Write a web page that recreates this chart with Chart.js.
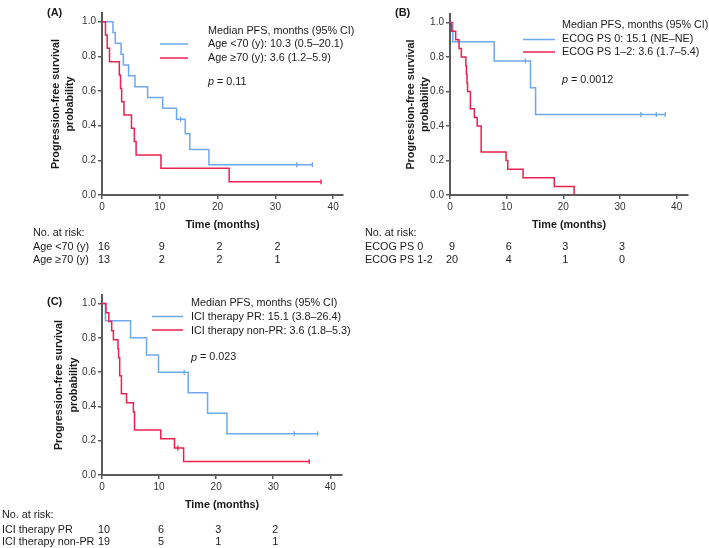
<!DOCTYPE html>
<html>
<head>
<meta charset="utf-8">
<script src="https://cdn.jsdelivr.net/npm/chart.js@4.4.1/dist/chart.umd.min.js"></script>
<style>
  html, body { margin: 0; padding: 0; background: #fff; }
  body { width: 709px; height: 548px; position: relative; overflow: hidden; }
  canvas { position: absolute; }
</style>
</head>
<body>
<canvas id="cA" width="355" height="268" style="left:0;top:0"></canvas>
<canvas id="cB" width="354" height="268" style="left:355px;top:0"></canvas>
<canvas id="cC" width="355" height="278" style="left:0;top:270px"></canvas>
<script>
// ---------- shared ticks ----------
const xTickValues = [0, 10, 20, 30, 40];
const yTickValues = [0, 0.2, 0.4, 0.6, 0.8, 1.0];
const riskTimes = [0, 10, 20, 30];
const legendHeading = 'Median PFS, months (95% CI)';

// ---------- Panel A: age ----------
const aLabels = ['Age <70 (y): 10.3 (0.5–20.1)', 'Age ≥70 (y): 3.6 (1.2–5.9)'];
const aRiskLabels = ['Age <70 (y)', 'Age ≥70 (y)'];
const aYoungTimes = [0, 1.9, 2.3, 3.3, 3.7, 4.6, 5.7, 7.9, 10.5, 12.9, 14.4, 15.2, 18.5, 36.4];
const aYoungSurv  = [1, 0.9375, 0.875, 0.8125, 0.75, 0.6875, 0.625, 0.5625, 0.5, 0.4375, 0.354, 0.263, 0.175, 0.175];
const aYoungCensor = [13.6, 33.7, 36.4];
const aOldTimes = [0, 0.6, 0.9, 1.3, 3.0, 3.2, 3.4, 3.8, 5.1, 5.6, 5.9, 10.2, 22.0, 37.9];
const aOldSurv  = [1, 0.923, 0.846, 0.769, 0.692, 0.615, 0.538, 0.462, 0.385, 0.308, 0.231, 0.154, 0.077, 0.077];
const aOldCensor = [37.9];
const aRiskYoung = [16, 9, 2, 2];
const aRiskOld = [13, 2, 2, 1];
const aPValue = '0.11';

// ---------- Panel B: ECOG PS ----------
const bLabels = ['ECOG PS 0: 15.1 (NE–NE)', 'ECOG PS 1–2: 3.6 (1.7–5.4)'];
const bRiskLabels = ['ECOG PS 0', 'ECOG PS 1-2'];
const bPs0Times = [0, 0.5, 7.8, 14.2, 15.1, 38.0];
const bPs0Surv  = [1, 0.889, 0.778, 0.622, 0.467, 0.467];
const bPs0Censor = [13.3, 33.7, 36.4, 38.0];
const bPs12Times = [0, 0.3, 1.0, 1.6, 2.0, 2.8, 2.9, 3.0, 3.1, 3.6, 4.3, 4.8, 5.5, 9.9, 10.2, 12.9, 18.4, 21.9];
const bPs12Surv  = [1, 0.95, 0.9, 0.85, 0.8, 0.75, 0.7, 0.65, 0.6, 0.5, 0.45, 0.4, 0.25, 0.2, 0.15, 0.1, 0.05, 0];
const bPs12Censor = [];
const bRiskPs0 = [9, 6, 3, 3];
const bRiskPs12 = [20, 4, 1, 0];
const bPValue = '0.0012';

// ---------- Panel C: ICI therapy response ----------
const cLabels = ['ICI therapy PR: 15.1 (3.8–26.4)', 'ICI therapy non-PR: 3.6 (1.8–5.3)'];
const cRiskLabels = ['ICI therapy PR', 'ICI therapy non-PR'];
const cPrTimes = [0, 0.6, 5.0, 7.8, 9.9, 15.1, 18.5, 21.9, 37.8];
const cPrSurv  = [1, 0.9, 0.8, 0.7, 0.6, 0.48, 0.36, 0.24, 0.24];
const cPrCensor = [14.4, 33.7, 37.8];
const cNonPrTimes = [0, 0.7, 1.2, 1.7, 2.0, 2.8, 2.9, 3.1, 3.4, 4.3, 5.5, 5.7, 10.3, 12.7, 14.3, 36.3];
const cNonPrSurv  = [1, 0.947, 0.895, 0.842, 0.789, 0.737, 0.684, 0.579, 0.474, 0.421, 0.368, 0.263, 0.211, 0.158, 0.079, 0.079];
const cNonPrCensor = [13.3, 36.3];
const cRiskPr = [10, 6, 3, 2];
const cRiskNonPr = [19, 5, 1, 1];
const cPValue = '0.023';

// ---------- styling ----------
const FONT = "'Liberation Sans', Arial, Helvetica, sans-serif";
const BLUE = '#6ea8ee';
const RED = '#e8214e';
const AXIS = '#5a5a5a';
const TXT = '#1a1a1a';

function toPoints(times, surv) {
  return times.map((t, i) => ({ x: t, y: surv[i] }));
}
function survAt(times, surv, t) {
  let s = surv[0];
  for (let i = 0; i < times.length; i++) { if (times[i] <= t) s = surv[i]; }
  return s;
}
function censorPoints(times, surv, cens) {
  return cens.map(t => ({ x: t, y: survAt(times, surv, t) }));
}

const kmAnnot = {
  id: 'kmAnnot',
  afterDraw(chart, args, o) {
    const ctx = chart.ctx;
    ctx.save();
    ctx.fillStyle = TXT;
    ctx.textBaseline = 'middle';
    ctx.textAlign = 'left';
    // panel tag
    ctx.font = `bold 11px ${FONT}`;
    ctx.fillText(o.tag, o.tagX, o.tagY);
    // legend
    ctx.font = `10.8px ${FONT}`;
    ctx.fillText(legendHeading, o.textX, o.headY);
    o.rows.forEach((r, i) => {
      ctx.strokeStyle = r.color;
      ctx.lineWidth = 1.5;
      ctx.beginPath();
      ctx.moveTo(o.lineX0, r.lineY);
      ctx.lineTo(o.lineX1, r.lineY);
      ctx.stroke();
      ctx.fillStyle = TXT;
      ctx.fillText(r.label, o.textX, r.textY);
    });
    // p value
    ctx.font = `italic 10.8px ${FONT}`;
    ctx.fillText('p', o.textX, o.pY);
    const pw = ctx.measureText('p').width;
    ctx.font = `10.8px ${FONT}`;
    ctx.fillText(' = ' + o.pValue, o.textX + pw, o.pY);
    // number at risk table
    const xs = chart.scales.x;
    ctx.fillText('No. at risk:', o.tableX, o.tableY[0]);
    o.risk.forEach((row, i) => {
      ctx.textAlign = 'left';
      ctx.fillText(row.label, o.tableX, o.tableY[i + 1]);
      ctx.textAlign = 'center';
      row.values.forEach((v, j) => {
        ctx.fillText(String(v), xs.getPixelForValue(riskTimes[j]) + 2, o.tableY[i + 1]);
      });
    });
    ctx.restore();
  }
};

function makeChart(id, cfg) {
  const datasets = [
    { label: cfg.labels[0], data: toPoints(cfg.t1, cfg.s1), borderColor: BLUE, borderWidth: 1.5,
      stepped: true, showLine: true, pointRadius: 0, fill: false, clip: false, order: 2 },
    { label: cfg.labels[1], data: toPoints(cfg.t2, cfg.s2), borderColor: RED, borderWidth: 1.5,
      stepped: true, showLine: true, pointRadius: 0, fill: false, clip: false, order: 1 },
    { label: 'c1', data: censorPoints(cfg.t1, cfg.s1, cfg.c1), borderColor: BLUE, backgroundColor: BLUE,
      showLine: false, pointStyle: 'line', rotation: 90, pointRadius: 2.5, pointBorderWidth: 1.3, clip: false },
    { label: 'c2', data: censorPoints(cfg.t2, cfg.s2, cfg.c2), borderColor: RED, backgroundColor: RED,
      showLine: false, pointStyle: 'line', rotation: 90, pointRadius: 2.5, pointBorderWidth: 1.3, clip: false }
  ];
  return new Chart(document.getElementById(id), {
    type: 'scatter',
    data: { datasets },
    plugins: [kmAnnot],
    options: {
      responsive: false,
      animation: false,
      devicePixelRatio: 1,
      layout: { padding: cfg.padding },
      plugins: {
        legend: { display: false },
        tooltip: { enabled: false },
        kmAnnot: cfg.annot
      },
      scales: {
        x: {
          type: 'linear', min: 0, max: cfg.xMax,
          afterBuildTicks: s => { s.ticks = xTickValues.map(v => ({ value: v })); },
          afterFit: s => { s.height = 40; },
          grid: { drawOnChartArea: false, drawTicks: true, tickLength: 4, color: AXIS, lineWidth: 1.5 },
          border: { color: AXIS, width: 2 },
          ticks: { font: { family: FONT, size: 10 }, color: '#333', padding: 2, maxRotation: 0 },
          title: { display: true, text: 'Time (months)', color: TXT,
                   font: { family: FONT, size: 10.8, weight: 'bold', lineHeight: 1.3 },
                   padding: { top: 0, bottom: 3 } }
        },
        y: {
          type: 'linear', min: 0, max: 1.05,
          afterBuildTicks: s => { s.ticks = yTickValues.map(v => ({ value: v })); },
          afterFit: s => { s.width = cfg.yWidth; },
          grid: { drawOnChartArea: false, drawTicks: true, tickLength: 4, color: AXIS, lineWidth: 1.5 },
          border: { color: AXIS, width: 2 },
          ticks: { font: { family: FONT, size: 10 }, color: '#333', padding: 2,
                   callback: v => Number(v).toFixed(1) },
          title: { display: true, text: ['Progression-free survival', 'probability'], color: TXT,
                   font: { family: FONT, size: 10.8, weight: 'bold', lineHeight: 1.35 },
                   padding: { top: cfg.yTitlePad, bottom: 0 } }
        }
      }
    }
  });
}

makeChart('cA', {
  labels: aLabels, t1: aYoungTimes, s1: aYoungSurv, c1: aYoungCensor,
  t2: aOldTimes, s2: aOldSurv, c2: aOldCensor,
  xMax: 41.7, yWidth: 102, yTitlePad: 48.5,
  padding: { left: 0, top: 13, right: 12, bottom: 33 },
  annot: {
    tag: '(A)', tagX: 47, tagY: 13,
    lineX0: 160, lineX1: 188, textX: 208, headY: 31, pY: 82, pValue: aPValue,
    rows: [ { color: BLUE, lineY: 44, textY: 44, label: aLabels[0] },
            { color: RED, lineY: 58, textY: 58, label: aLabels[1] } ],
    tableX: 33, tableY: [233, 247, 260],
    risk: [ { label: aRiskLabels[0], values: aRiskYoung }, { label: aRiskLabels[1], values: aRiskOld } ]
  }
});

makeChart('cB', {
  labels: bLabels, t1: bPs0Times, s1: bPs0Surv, c1: bPs0Censor,
  t2: bPs12Times, s2: bPs12Surv, c2: bPs12Censor,
  xMax: 42.0, yWidth: 95, yTitlePad: 48.5,
  padding: { left: 0, top: 14, right: 21, bottom: 33 },
  annot: {
    tag: '(B)', tagX: 40, tagY: 13,
    lineX0: 168, lineX1: 200, textX: 207, headY: 25, pY: 80, pValue: bPValue,
    rows: [ { color: BLUE, lineY: 39.5, textY: 39.5, label: bLabels[0] },
            { color: RED, lineY: 52, textY: 52, label: bLabels[1] } ],
    tableX: 10, tableY: [233, 247, 260],
    risk: [ { label: bRiskLabels[0], values: bRiskPs0 }, { label: bRiskLabels[1], values: bRiskPs12 } ]
  }
});

makeChart('cC', {
  labels: cLabels, t1: cPrTimes, s1: cPrSurv, c1: cPrCensor,
  t2: cNonPrTimes, s2: cNonPrSurv, c2: cNonPrCensor,
  xMax: 42.05, yWidth: 102, yTitlePad: 52,
  padding: { left: 0, top: 25, right: 13, bottom: 33 },
  annot: {
    tag: '(C)', tagX: 47, tagY: 32,
    lineX0: 152, lineX1: 183, textX: 191, headY: 33.5, pY: 87.5, pValue: cPValue,
    rows: [ { color: BLUE, lineY: 46.5, textY: 47.5, label: cLabels[0] },
            { color: RED, lineY: 60, textY: 61, label: cLabels[1] } ],
    tableX: 2, tableY: [245, 260, 272],
    risk: [ { label: cRiskLabels[0], values: cRiskPr }, { label: cRiskLabels[1], values: cRiskNonPr } ]
  }
});
</script>
</body>
</html>
